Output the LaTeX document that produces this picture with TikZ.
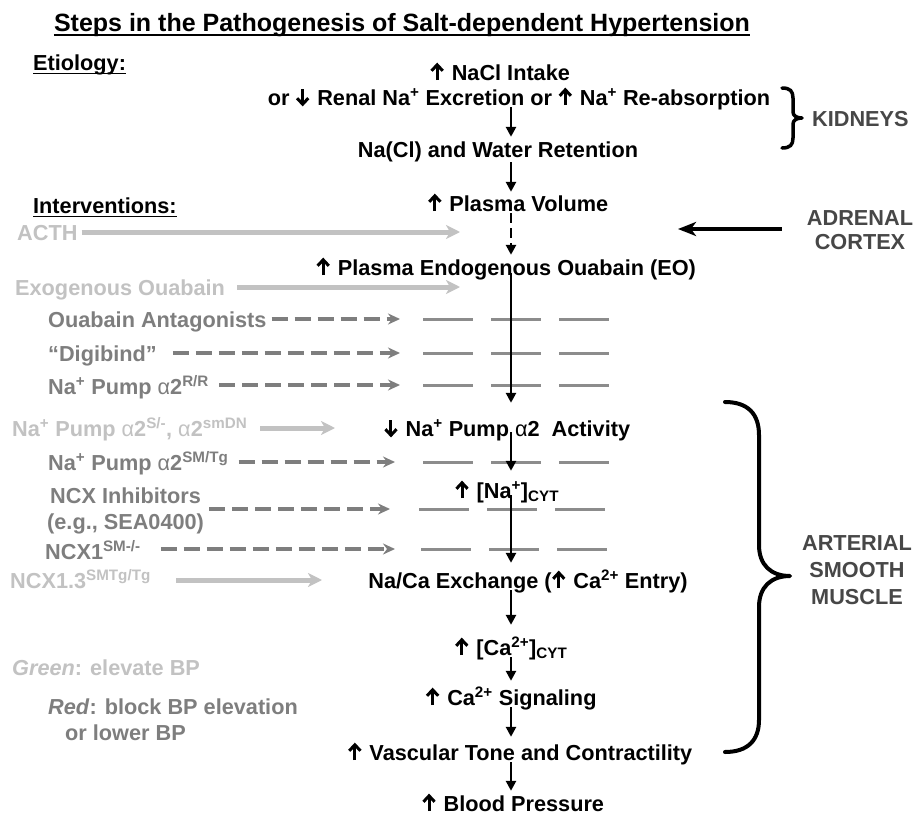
\documentclass[tikz,border=0pt]{standalone}
\usepackage{fontspec}
\setmainfont{Liberation Sans}
\usetikzlibrary{arrows.meta}
\definecolor{lgray}{HTML}{C2C2C2}
\definecolor{mgray}{HTML}{7E7E7E}
\definecolor{bgray}{HTML}{8C8C8C}
\definecolor{dgray}{HTML}{474747}
\newcommand\uparr{\tikz[baseline=0pt,x=1pt,y=1pt,line width=3pt]{\draw (7,0) -- (7,15); \draw[miter limit=4] (1.4,9.2) -- (7,15.2) -- (12.6,9.2);}\hspace{1.5pt}}
\newcommand\dnarr{\tikz[baseline=0pt,x=1pt,y=1pt,line width=3pt]{\draw (7,16) -- (7,1); \draw[miter limit=4] (1.4,6.8) -- (7,0.8) -- (12.6,6.8);}\hspace{1.5pt}}
\newcommand\sps[1]{\textsuperscript{#1}}
\newcommand\alp{{\mdseries α}}
\tikzset{
  txt/.style={inner sep=0pt, font=\fontsize{21.7}{26}\selectfont\bfseries},
  one/.style={txt, text height=16pt, text depth=0pt},
  chain/.style={one},
  elev/.style={one, text=lgray, anchor=west},
  lower/.style={one, text=mgray, anchor=west},
  organ/.style={txt, text=dgray, align=center},
  flow/.style={line width=2.8pt, -{Triangle[length=10pt,width=10pt]}},
  flowdash/.style={flow, dash pattern=on 10pt off 5pt},
  garrow/.style={lgray, line width=5pt, -{Stealth[length=14pt,width=14pt,inset=4pt]}},
  rarrow/.style={mgray, line width=3.5pt, dash pattern=on 16pt off 7pt, -{Stealth[length=12pt,width=11pt,inset=4pt]}},
  adrarrow/.style={line width=4pt, -{Stealth[length=18pt,width=14pt,inset=5pt]}},
  blockmark/.style={bgray, line width=3pt, dash pattern=on 50pt off 18pt},
  brc/.style={line width=4pt, line cap=round, line join=round},
  ulin/.style={line width=1.8pt}
}
\begin{document}
\begin{tikzpicture}[x=1pt,y=-1pt]
\useasboundingbox[fill=white] (0,0) rectangle (916,814);
\coordinate (ax) at (511,0);

% title and headings
\node[one, font=\fontsize{25}{30}\selectfont\bfseries, text height=18pt] (title) at (402,22) {Steps in the Pathogenesis of Salt-dependent Hypertension};
\draw[ulin, line width=2pt] ([yshift=-4pt]title.base west) -- ([yshift=-4pt]title.base east);
\node[one, anchor=west] (etio) at (33,62) {Etiology:};
\draw[ulin] ([yshift=-3.5pt]etio.base west) -- ([yshift=-3.5pt]etio.base east);
\node[one, anchor=west] (interv) at (33,205) {Interventions:};
\draw[ulin] ([yshift=-3.5pt]interv.base west) -- ([yshift=-3.5pt]interv.base east);

% main chain
\node[chain] (n1) at (500,72) {\uparr\ NaCl Intake};
\node[chain] (n2) at (519,97) {or \dnarr\ Renal Na\sps{+} Excretion or \uparr\ Na\sps{+} Re-absorption};
\node[chain] (n3) at (498,149) {Na(Cl) and Water Retention};
\node[chain] (n4) at (518,203) {\uparr\ Plasma Volume};
\node[chain] (n5) at (506,267) {\uparr\ Plasma Endogenous Ouabain (EO)};
\node[chain] (n6) at (507,428) {\dnarr\ Na\sps{+} Pump \alp2\ \ Activity};
\node[chain] (n7) at (507,490) {\uparr\ [Na\sps{+}]\textsubscript{CYT}};
\node[chain] (n8) at (528,580) {Na/Ca Exchange (\uparr\ Ca\sps{2+} Entry)};
\node[chain] (n9) at (511,647) {\uparr\ [Ca\sps{2+}]\textsubscript{CYT}};
\node[chain] (n10) at (511,697) {\uparr\ Ca\sps{2+} Signaling};
\node[chain] (n11) at (520,752) {\uparr\ Vascular Tone and Contractility};
\node[chain] (n12) at (513,803) {\uparr\ Blood Pressure};

% block marks
\draw[blockmark] (423,319) -- (609,319);
\draw[blockmark] (423,353) -- (609,353);
\draw[blockmark] (423,385) -- (609,385);
\draw[blockmark] (423,462) -- (609,462);
\draw[blockmark] (419,509) -- (605,509);
\draw[blockmark] (421,549) -- (607,549);

% main arrows
\draw[flow] ([yshift=-2pt]n2.south -| ax) -- ([yshift=4pt]n3.north -| ax);
\draw[flow] ([yshift=-5pt]n3.south -| ax) -- ([yshift=3pt]n4.north -| ax);
\draw[flowdash] ([yshift=-2pt]n4.south -| ax) -- ([yshift=4pt]n5.north -| ax);
\draw[flow] ([yshift=2pt]n5.south -| ax) -- ([yshift=17pt]n6.north -| ax);
\draw[flow] ([yshift=4pt]n6.south -| ax) -- ([yshift=11pt]n7.north -| ax);
\draw[flow] ([yshift=3pt]n7.south -| ax) -- ([yshift=9pt]n8.north -| ax);
\draw[flow] ([yshift=-2pt]n8.south -| ax) -- ([yshift=14pt]n9.north -| ax);
\draw[flow] ([yshift=-2pt]n9.south -| ax) -- ([yshift=8pt]n10.north -| ax);
\draw[flow] ([yshift=-2pt]n10.south -| ax) -- ([yshift=7pt]n11.north -| ax);
\draw[flow] ([yshift=-2pt]n11.south -| ax) -- ([yshift=4pt]n12.north -| ax);

% interventions
\node[elev] (acth) at (17,232) {ACTH};
\coordinate (acthE) at (460,232);
\draw[garrow] ([xshift=4pt]acth.east) -- (acthE);
\node[elev] (exo) at (15,287) {Exogenous Ouabain};
\coordinate (exoE) at (460,287);
\draw[garrow] ([xshift=12pt]exo.east) -- (exoE);
\node[lower] (oa) at (48,319) {Ouabain Antagonists};
\coordinate (oaE) at (400,319);
\draw[rarrow] ([xshift=5pt]oa.east) -- (oaE);
\node[lower] (dig) at (48,353) {“Digibind”};
\coordinate (digE) at (400,353);
\draw[rarrow] ([xshift=16pt]dig.east) -- (digE);
\node[lower] (rr) at (48,386) {Na\sps{+} Pump \alp2\sps{R/R}};
\coordinate (rrE) at (400,385);
\draw[rarrow] ([xshift=10pt]rr.east |- rrE) -- (rrE);
\node[elev] (sdn) at (12,428) {Na\sps{+} Pump \alp2\sps{S/-}, \alp2\sps{smDN}};
\coordinate (sdnE) at (335,428);
\draw[garrow] ([xshift=13pt]sdn.east) -- (sdnE);
\node[lower] (smtg) at (48,462) {Na\sps{+} Pump \alp2\sps{SM/Tg}};
\coordinate (smtgE) at (395,462);
\draw[rarrow] ([xshift=10pt]smtg.east) -- (smtgE);
\node[txt, text=mgray, align=center, anchor=west] (ncx) at (47,511) {NCX Inhibitors\\(e.g., SEA0400)};
\coordinate (ncxE) at (390,509);
\draw[rarrow] ([xshift=5pt]ncx.east |- ncxE) -- (ncxE);
\node[lower] (ncx1) at (45,551) {NCX1\sps{SM-/-}};
\coordinate (ncx1E) at (395,549);
\draw[rarrow] ([xshift=20pt]ncx1.east |- ncx1E) -- (ncx1E);
\node[elev] (ncx13) at (10,580) {NCX1.3\sps{SMTg/Tg}};
\coordinate (ncx13E) at (322,580);
\draw[garrow] ([xshift=25pt]ncx13.east) -- (ncx13E);

% legend
\node[elev] (leg1) at (12,667) {\textit{Green}: elevate BP};
\node[txt, text=mgray, align=left, anchor=west] (leg2) at (48,720) {\textit{Red}: block BP elevation\\\hspace*{17pt}or lower BP};

% organs
\node[one, text=dgray, anchor=west] (kid) at (812,118) {KIDNEYS};
\node[organ, font=\fontsize{21.7}{24}\selectfont\bfseries] (adr) at (860,230) {ADRENAL\\CORTEX};
\coordinate (adrE) at (678,229);
\draw[adrarrow] ([xshift=-25pt]adr.west |- adrE) -- (adrE);
\node[organ, font=\fontsize{21.7}{27}\selectfont\bfseries] (asm) at (857,570) {ARTERIAL\\SMOOTH\\MUSCLE};

% braces
\draw[brc, line width=3.5pt] (782,88) .. controls (790,88) and (793,91) .. (793,98) -- (793,112)
  .. controls (793,116) and (797,118) .. (802,118) .. controls (797,118) and (793,120) .. (793,124)
  -- (793,138) .. controls (793,145) and (790,148) .. (782,148);
\draw[brc] (725,402) .. controls (748,402) and (759,414) .. (759,435) -- (759,545)
  .. controls (759,565) and (771,576) .. (790,576) .. controls (771,576) and (759,587) .. (759,607)
  -- (759,720) .. controls (759,740) and (748,752) .. (725,752);
\end{tikzpicture}
\end{document}
